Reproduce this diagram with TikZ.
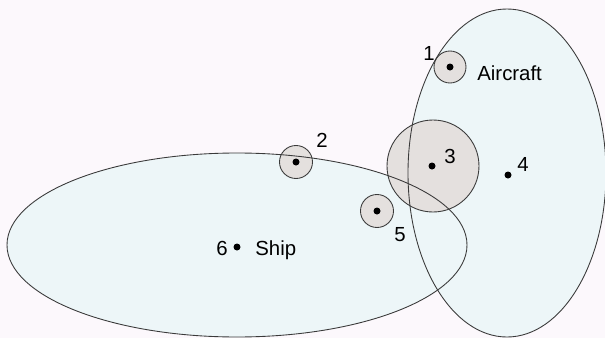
\documentclass[tikz,border=0pt]{standalone}
\usepackage{fontspec}
\setmainfont{Liberation Sans}
\usepackage{tikz}
\usetikzlibrary{positioning}
\definecolor{pagebg}{HTML}{FCF8FC}
\definecolor{zonefill}{HTML}{EDF6F8}
\definecolor{cellfill}{HTML}{E4E0DE}
\definecolor{inkline}{HTML}{3A3A3A}
\tikzset{
  zone/.style={fill=zonefill},
  zoneline/.style={draw=inkline, line width=0.5pt},
  cell/.style={draw=inkline, circle, fill=cellfill, inner sep=0pt, line width=0.5pt},
  target/.style={circle, fill=black, inner sep=0pt, minimum size=1.4mm},
  tag/.style={inner sep=0pt, anchor=base},
  word/.style={inner sep=0pt, anchor=base west}
}

\begin{document}
\begin{tikzpicture}[x=0.2mm, y=-0.2mm, font=\fontsize{11.6}{14}\selectfont]
  \useasboundingbox[fill=pagebg] (0,0) rectangle (605,338);

  % coverage areas
  \fill[zone] (237,245) ellipse [x radius=230, y radius=92];
  \fill[zone] (507,173) ellipse [x radius=99, y radius=164];

  % error circles
  \node[cell, minimum size=6.4mm] (c1) at (450,67) {};
  \node[cell, minimum size=6.6mm] (c2) at (296,162) {};
  \node[cell, minimum size=18.4mm] (c3) at (433,166) {};
  \node[cell, minimum size=6.6mm] (c5) at (377,211) {};

  \draw[zoneline] (237,245) ellipse [x radius=230, y radius=92];
  \draw[zoneline] (507,173) ellipse [x radius=99, y radius=164];

  % reports
  \node[target] (p1) at (c1.center) {};
  \node[target] (p2) at (c2.center) {};
  \node[target] (p3) at (432,166) {};
  \node[target] (p4) at (508,175) {};
  \node[target] (p5) at (c5.center) {};
  \node[target] (p6) at (237,247) {};

  \node[tag] (l1) at (429,60) {1};
  \node[tag] (l2) at (322,147) {2};
  \node[tag] (l3) at (450,163) {3};
  \node[tag] (l4) at (523,171) {4};
  \node[tag] (l5) at (400,241) {5};
  \node[tag] (l6) at (222,255) {6};

  \node[word] (air) at (477,80) {Aircraft};
  \node[word] (ship) at (255,255) {Ship};
\end{tikzpicture}
\end{document}
